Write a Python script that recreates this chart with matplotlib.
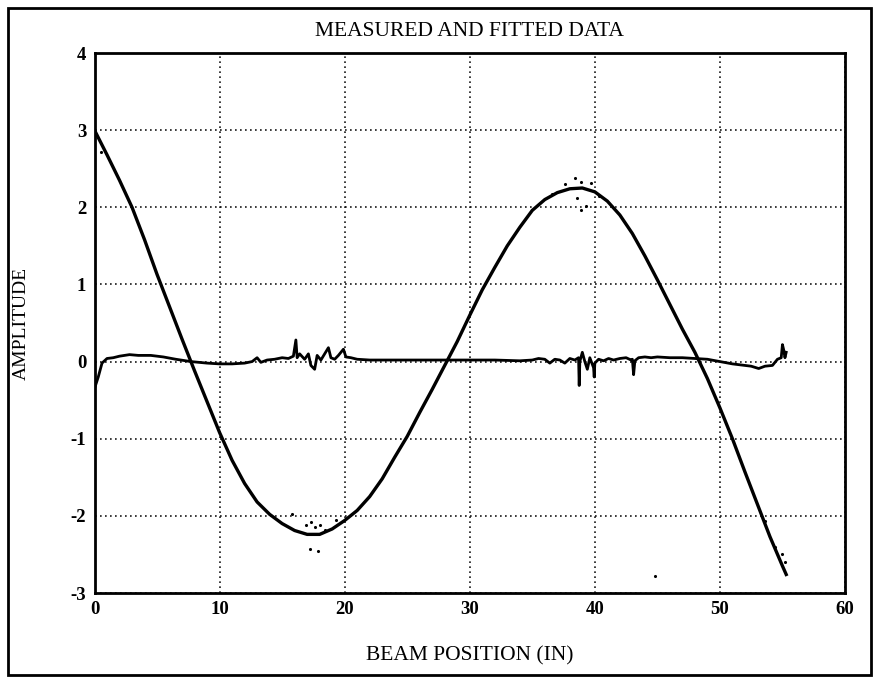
import matplotlib

matplotlib.use("Agg")
import matplotlib.pyplot as plt
from matplotlib.patches import Rectangle

# ----- data ------------------------------------------------------------------

# fitted mode shape, sampled every inch
fit_x = [0, 1, 2, 3, 4, 5, 6, 7, 8, 9, 10, 11, 12, 13, 14, 15, 16, 17, 18, 19,
         20, 21, 22, 23, 24, 25, 26, 27, 28, 29, 30, 31, 32, 33, 34, 35, 36, 37,
         38, 39, 40, 41, 42, 43, 44, 45, 46, 47, 48, 49, 50, 51, 52, 53, 54, 55,
         55.3]
fit_y = [3.00, 2.68, 2.35, 2.00, 1.58, 1.13, 0.71, 0.29, -0.12, -0.52, -0.92,
         -1.28, -1.58, -1.82, -1.98, -2.10, -2.19, -2.24, -2.24, -2.17, -2.06,
         -1.93, -1.75, -1.52, -1.24, -0.97, -0.66, -0.36, -0.05, 0.26, 0.60,
         0.93, 1.22, 1.50, 1.74, 1.96, 2.10, 2.19, 2.24, 2.25, 2.20, 2.08, 1.90,
         1.66, 1.37, 1.06, 0.74, 0.42, 0.12, -0.22, -0.60, -1.00, -1.43, -1.85,
         -2.27, -2.65, -2.76]

# measured points that stand off the fitted curve
meas_x = [0.5, 15.8, 16.9, 17.3, 17.6, 18.0, 18.4, 19.3, 17.2, 17.9, 36.6, 37.6,
          38.4, 38.9, 39.7, 38.6, 39.3, 40.3, 38.9, 55.0, 55.2, 44.8, 53.6, 54.4]
meas_y = [2.72, -1.97, -2.12, -2.08, -2.15, -2.12, -2.18, -2.05, -2.43, -2.46,
          2.17, 2.30, 2.38, 2.33, 2.31, 2.12, 2.02, 2.15, 1.97, -2.50, -2.60,
          -2.78, -2.07, -2.40]

# residual (measured minus fitted)
res_x = [0, 0.3, 0.6, 1.0, 1.5, 2.0, 2.8, 3.5, 4.5, 5.5, 6.5, 7.7, 9, 10, 11,
         12, 12.6, 13.0, 13.3, 13.8, 14.4, 15.0, 15.5, 15.9, 16.1, 16.2, 16.4,
         16.8, 17.1, 17.3, 17.6, 17.8, 18.1, 18.4, 18.7, 18.9, 19.2, 19.5, 19.9,
         20.1, 20.5, 21, 22, 24, 26, 28, 30, 32, 34, 35.0, 35.5, 36.0, 36.4,
         36.8, 37.2, 37.6, 38.0, 38.4, 38.7, 38.75, 38.8, 39.0, 39.2, 39.4, 39.6,
         39.9, 39.95, 40.0, 40.3, 40.7, 41.1, 41.5, 42.0, 42.5, 42.9, 43.0, 43.1,
         43.2, 43.5, 44.0, 44.5, 45, 46, 47, 48, 49, 50, 51, 52, 52.5, 53.1,
         53.6, 54.2, 54.6, 54.9, 55.0, 55.1, 55.2, 55.3]
res_y = [-0.35, -0.20, -0.02, 0.04, 0.05, 0.07, 0.09, 0.08, 0.08, 0.06, 0.03,
         0.00, -0.02, -0.03, -0.03, -0.02, 0.00, 0.05, -0.01, 0.02, 0.03, 0.05,
         0.04, 0.07, 0.28, 0.05, 0.10, 0.03, 0.10, -0.05, -0.10, 0.08, 0.02,
         0.10, 0.18, 0.05, 0.03, 0.08, 0.16, 0.06, 0.05, 0.03, 0.02, 0.02, 0.02,
         0.02, 0.02, 0.02, 0.01, 0.02, 0.04, 0.03, -0.02, 0.03, 0.02, -0.02,
         0.04, 0.02, 0.05, -0.31, 0.00, 0.12, 0.00, -0.10, 0.05, -0.08, -0.20,
         -0.02, 0.03, 0.01, 0.04, 0.02, 0.04, 0.05, 0.02, 0.03, -0.17, 0.01,
         0.05, 0.06, 0.05, 0.06, 0.05, 0.05, 0.04, 0.03, 0.00, -0.03, -0.05,
         -0.06, -0.09, -0.06, -0.05, 0.03, 0.05, 0.22, 0.15, 0.05, 0.12]

x_ticks = [0, 10, 20, 30, 40, 50, 60]
y_ticks = [-3, -2, -1, 0, 1, 2, 3, 4]

# ----- plot -------------------------------------------------------------------

SERIF = ["Liberation Serif", "DejaVu Serif"]
plt.rcParams["axes.unicode_minus"] = False  # the scan uses plain hyphens

fig = plt.figure(figsize=(8.77, 6.8), dpi=100)
fig.patches.append(Rectangle((8 / 877, 5 / 680), 863 / 877, 667 / 680,
                             transform=fig.transFigure, fill=False,
                             edgecolor="black", linewidth=2))

ax = fig.add_axes([94.5 / 877, 1 - 593 / 680, 750.5 / 877, 540 / 680])
ax.plot(fit_x, fit_y, color="black", linewidth=2.4, zorder=3,
        solid_joinstyle="round")
ax.scatter(meas_x, meas_y, s=5, color="black", linewidths=0, zorder=3)
ax.plot(res_x, res_y, color="black", linewidth=2.0, zorder=3,
        solid_joinstyle="round")

ax.set_xlim(0, 60)
ax.set_ylim(-3, 4)
ax.set_xticks(x_ticks)
ax.set_yticks(y_ticks)
ax.grid(True, linestyle=(0, (1, 2)), color="black", linewidth=1.2, alpha=0.9)
ax.tick_params(length=0, pad=6)
for lab in ax.get_xticklabels() + ax.get_yticklabels():
    lab.set_family(SERIF)
    lab.set_fontweight("bold")
    lab.set_fontsize(13.5)
for sp in ax.spines.values():
    sp.set_linewidth(2)

ax.set_title("MEASURED AND FITTED DATA", family=SERIF, fontsize=15.5, pad=12)
ax.set_xlabel("BEAM POSITION (IN)", family=SERIF, fontsize=15.5, labelpad=20)
ax.set_ylabel("AMPLITUDE", family=SERIF, fontsize=14)
ax.yaxis.set_label_coords(-0.086, 0.5)

fig.savefig("out.png", dpi=100)
plt.close(fig)
